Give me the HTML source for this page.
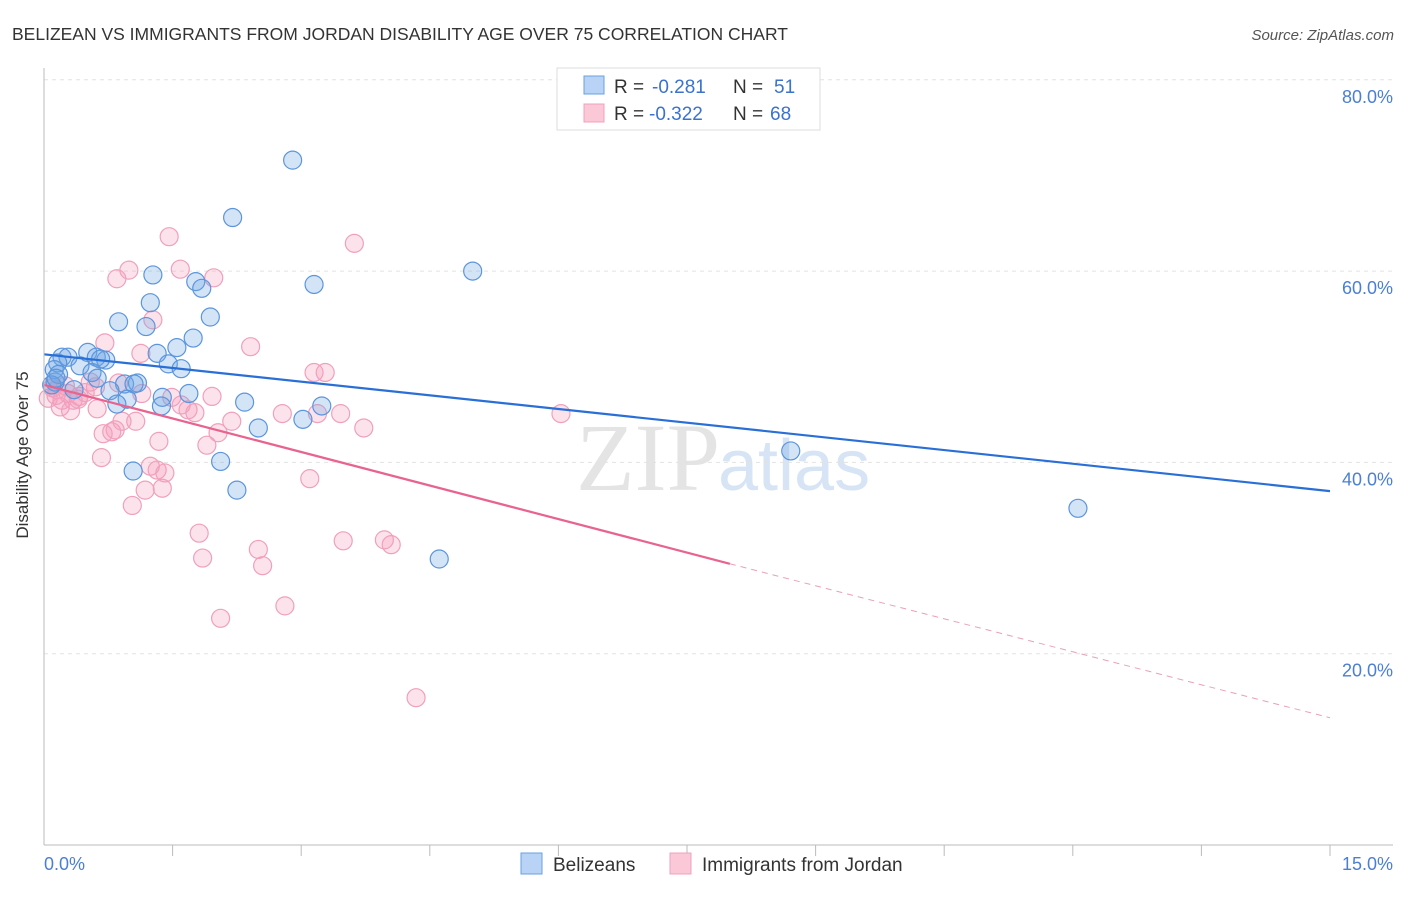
<!DOCTYPE html>
<html><head><meta charset="utf-8"><style>
body{margin:0;background:#fff;font-family:"Liberation Sans",sans-serif}
#c{position:relative;width:1406px;height:892px}
</style></head><body>
<div id="c">
<svg id="s" width="1406" height="892">
<text x="12" y="40" font-size="17.5" fill="#333">BELIZEAN VS IMMIGRANTS FROM JORDAN DISABILITY AGE OVER 75 CORRELATION CHART</text>
<text x="1394" y="40" font-size="15" fill="#555" font-style="italic" text-anchor="end">Source: ZipAtlas.com</text>
<text x="720" y="490" font-size="96" fill="#e4e4e4" font-family="Liberation Serif" text-anchor="end">ZIP</text>
<text x="718" y="490" font-size="72" fill="#d6e4f5">atlas</text>
<g id="grid"></g><g id="pts"></g><g id="lines"></g>
<line x1="44" y1="68" x2="44" y2="845" stroke="#bbb"/>
<line x1="44" y1="845" x2="1393" y2="845" stroke="#bbb"/>
<text x="28" y="455" font-size="17" fill="#333" text-anchor="middle" transform="rotate(-90 28 455)">Disability Age Over 75</text>
<text x="44" y="870" font-size="18" fill="#4a7fd4">0.0%</text>
<text x="1393" y="870" font-size="18" fill="#4a7fd4" text-anchor="end">15.0%</text>
<g>
<rect x="557" y="68" width="263" height="62" fill="#fff" stroke="#ddd"/>
<rect x="584" y="76" width="20" height="18" fill="#b8d3f5" stroke="#6aa0e0"/>
<rect x="584" y="104" width="20" height="18" fill="#fbc8d7" stroke="#f0a0bc"/>
<text x="614" y="93" font-size="19" fill="#333">R =</text>
<text x="652" y="93" font-size="19" fill="#3a72d0">-0.281</text>
<text x="733" y="93" font-size="19" fill="#333">N =</text>
<text x="774" y="93" font-size="19" fill="#3a72d0">51</text>
<text x="614" y="120" font-size="19" fill="#333">R =</text>
<text x="649" y="120" font-size="19" fill="#3a72d0">-0.322</text>
<text x="733" y="120" font-size="19" fill="#333">N =</text>
<text x="770" y="120" font-size="19" fill="#3a72d0">68</text>
</g>
<g>
<rect x="521" y="853" width="21" height="21" fill="#b8d3f5" stroke="#6aa0e0"/>
<text x="553" y="871" font-size="19" fill="#333">Belizeans</text>
<rect x="670" y="853" width="21" height="21" fill="#fbc8d7" stroke="#f0a0bc"/>
<text x="702" y="871" font-size="19" fill="#333">Immigrants from Jordan</text>
</g>
</svg></div>
<script>
const yTicks=[20,40,60,80];
const yTickLabels=["20.0%","40.0%","60.0%","80.0%"];
const blueX=[2.90,2.20,5.00,3.15,1.27,1.77,1.84,1.24,1.94,0.87,1.19,1.74,1.55,1.32,0.51,0.21,0.28,0.61,0.72,0.16,0.42,1.45,1.60,0.12,0.56,0.62,0.13,0.94,1.09,1.05,0.35,0.77,1.69,1.38,0.97,2.34,0.85,1.37,3.24,3.02,2.50,2.06,1.04,2.25,4.61,8.71,12.06,0.17,0.09,0.14,0.66];
const blueY=[71.6,65.6,60.0,58.6,59.6,58.9,58.2,56.7,55.2,54.7,54.2,53.0,52.0,51.4,51.5,51.0,51.0,51.0,50.7,50.4,50.1,50.3,49.8,49.7,49.4,48.8,48.4,48.2,48.3,48.2,47.6,47.5,47.2,46.8,46.6,46.3,46.1,45.9,45.9,44.5,43.6,40.1,39.1,37.1,29.9,41.2,35.2,49.2,48.1,48.8,50.8];
const pinkX=[1.46,3.62,0.99,1.59,0.85,1.98,1.27,2.41,0.71,1.13,3.15,3.28,0.54,0.87,0.09,0.15,0.28,0.41,0.48,1.14,1.96,1.49,0.05,0.21,0.34,0.19,0.31,0.62,1.60,1.68,1.76,2.78,3.19,3.46,6.03,0.91,1.07,2.19,3.73,0.83,0.79,0.69,2.03,1.34,1.90,0.67,1.24,1.32,1.41,3.10,1.18,1.38,1.03,1.81,3.49,3.97,4.05,2.50,1.85,2.55,2.81,2.06,4.34,0.14,0.10,0.25,0.40,0.60];
const pinkY=[63.6,62.9,60.1,60.2,59.2,59.3,54.9,52.1,52.5,51.4,49.4,49.4,48.4,48.3,48.1,47.6,47.2,46.9,47.3,47.2,46.9,46.8,46.7,46.5,46.5,45.8,45.4,45.6,46.0,45.5,45.2,45.1,45.1,45.1,45.1,44.3,44.3,44.3,43.6,43.4,43.2,43.0,43.1,42.2,41.8,40.5,39.6,39.2,38.9,38.3,37.1,37.3,35.5,32.6,31.8,31.9,31.4,30.9,30.0,29.2,25.0,23.7,15.4,47.0,47.8,48.0,46.6,47.9];
const blueTrend=[[0,51.3],[15,37.0]];
const pinkTrendSolid=[[0,48.1],[8.0,29.4]];
const pinkTrendDash=[[8.0,29.4],[15,13.3]];
const X=v=>44+v/15*1286, Y=v=>845-v/20*191.3;
const NS="http://www.w3.org/2000/svg";
function mk(t,a,p){const e=document.createElementNS(NS,t);for(const k in a)e.setAttribute(k,a[k]);p.appendChild(e);return e;}
const grid=document.getElementById('grid');
yTicks.forEach((t,i)=>{
 const l=mk('line',{x1:44,x2:1393,y1:Y(t),y2:Y(t),stroke:'#e2e2e2','stroke-dasharray':'4,4'},grid);
 
 
 const tx=mk('text',{x:1393,y:Y(t)+23,'font-size':18,fill:'#4a7fd4','text-anchor':'end'},grid);
 tx.textContent=yTickLabels[i];
 
 
});
for(let i=1;i<=10;i++){
 const l=mk('line',{x1:X(i*1.5),x2:X(i*1.5),y1:845,y2:856,stroke:'#bbb'},grid);
 
 
}
const pts=document.getElementById('pts');
pinkX.forEach((x,i)=>{
 const c=mk('circle',{cx:X(x),cy:Y(pinkY[i]),r:9,fill:'rgba(244,160,190,0.3)',stroke:'#f0a0bc','stroke-width':1.2},pts);
 
 
});
blueX.forEach((x,i)=>{
 const c=mk('circle',{cx:X(x),cy:Y(blueY[i]),r:9,fill:'rgba(110,165,230,0.3)',stroke:'#5b95dc','stroke-width':1.2},pts);
 
 
});
const ln=document.getElementById('lines');
function seg(d,col,w,dash,name){
 const l=mk('line',{x1:X(d[0][0]),y1:Y(d[0][1]),x2:X(d[1][0]),y2:Y(d[1][1]),stroke:col,'stroke-width':w},ln);
 if(dash)l.setAttribute('stroke-dasharray',dash);
 
 
}
seg(blueTrend,'#2a6fd6',2.2,null,'belizean-trend-line');
seg(pinkTrendSolid,'#e8638f',2.2,null,'jordan-trend-line');
seg(pinkTrendDash,'#e8a0b8',1,'6,5','jordan-trend-extension');
</script>
</body></html>
